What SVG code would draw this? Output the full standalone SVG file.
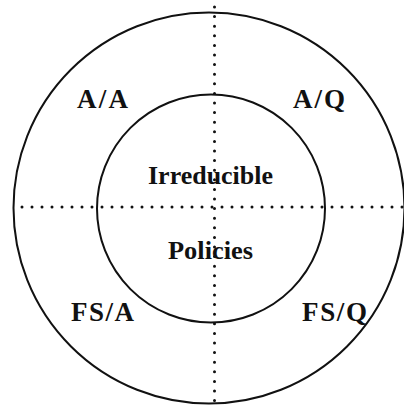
<svg xmlns="http://www.w3.org/2000/svg" width="404" height="406" viewBox="0 0 404 406">
  <style>
    .ring { fill: none; stroke: #111; stroke-width: 2; }
    .dots { fill: none; stroke: #111; stroke-width: 3; stroke-linecap: round; }
    .dots.v { stroke-dasharray: 0 9.6; }
    .dots.h { stroke-dasharray: 0 10; }
    .label { font-family: "Liberation Serif", "Times New Roman", serif; font-weight: bold; fill: #111; }
    .quad { font-size: 27px; }
    .core { font-size: 26px; }
  </style>
  <rect width="404" height="406" fill="#fff"/>

  <!-- dotted quadrant axes -->
  <g id="connectors">
    <line class="dots v" x1="214.5" y1="7" x2="214.5" y2="406"/>
    <line class="dots h" x1="22" y1="207" x2="404" y2="207"/>
  </g>

  <g id="outer-ring">
    <circle class="ring" cx="209" cy="208" r="195.5"/>
  </g>

  <g id="irreducible-policies">
    <circle class="ring" cx="211" cy="208.5" r="114"/>
    <text class="label core" x="148" y="184" textLength="125" lengthAdjust="spacingAndGlyphs">Irreducible</text>
    <text class="label core" x="168" y="259" textLength="85" lengthAdjust="spacingAndGlyphs">Policies</text>
  </g>

  <g id="quadrant-aa">
    <text class="label quad" x="77" y="108" textLength="51" lengthAdjust="spacing">A/A</text>
  </g>
  <g id="quadrant-aq">
    <text class="label quad" x="293" y="108" textLength="52" lengthAdjust="spacing">A/Q</text>
  </g>
  <g id="quadrant-fsa">
    <text class="label quad" x="71" y="321" textLength="63" lengthAdjust="spacing">FS/A</text>
  </g>
  <g id="quadrant-fsq">
    <text class="label quad" x="302" y="321" textLength="65" lengthAdjust="spacing">FS/Q</text>
  </g>
</svg>
